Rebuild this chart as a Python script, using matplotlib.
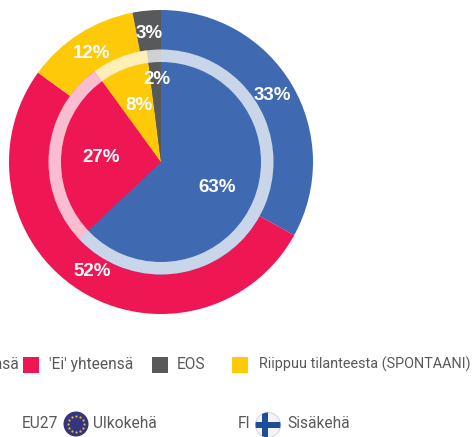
import numpy as np
import matplotlib
matplotlib.use("Agg")
import matplotlib.pyplot as plt
from matplotlib.patches import Circle, Rectangle, Wedge

W, H = 472, 437

categories = ["'Kyllä' yhteensä", "'Ei' yhteensä", "EOS", "Riippuu tilanteesta (SPONTAANI)"]
colors = ["#3f6ab2", "#ef1654", "#58595b", "#fec908"]

# clockwise from the top: yes, no, depends, dont know
outer_eu27 = [33, 52, 12, 3]
inner_fi = [63, 27, 8, 2]
pie_colors = [colors[0], colors[1], colors[3], colors[2]]

plt.rcParams["font.family"] = ["Roboto", "DejaVu Sans"]

fig = plt.figure(figsize=(W / 100, H / 100), dpi=100)
ax = fig.add_axes([0, 0, 1, 1])

cx, cy = 161, 162

# y axis gets flipped below so counterclock pie comes out clockwise
ax.pie(outer_eu27, colors=pie_colors, radius=152, center=(cx, cy), startangle=-90,
       counterclock=True, frame=True, wedgeprops={"linewidth": 0, "zorder": 1})
ax.pie(inner_fi, colors=pie_colors, radius=112.5, center=(cx, cy), startangle=-90,
       counterclock=True, frame=True, wedgeprops={"linewidth": 0, "zorder": 2})
ax.set_xlim(0, W)
ax.set_ylim(H, 0)
ax.set_aspect("equal")
ax.axis("off")

# pale ring on the rim of the inner pie
ax.add_patch(Wedge((cx, cy), 112.5, 0, 360, width=12.5, facecolor="white", alpha=0.72, linewidth=0, zorder=3))

labels = ["33%", "52%", "12%", "3%", "2%", "8%", "27%", "63%"]
label_x = [272, 92, 92, 149, 157, 139, 101, 217]
label_y = [96, 271, 54, 33, 80, 106, 157, 187]
for s, x, y in zip(labels, label_x, label_y):
    ax.text(x, y, s, color="white", fontsize=13.5, fontweight="bold", family="Liberation Sans",
            ha="center", va="center", zorder=5)

# legend row
text_col = "#58595b"
fs = 11.2
box_x = [-25, 23, 152, 232]
text_x = [19, 49, 177, 259]
text_fs = [fs, fs, fs, 10.4]
for i, c in enumerate(categories):
    ax.add_patch(Rectangle((box_x[i], 357), 16, 16, facecolor=colors[i], linewidth=0))
    ha = "right" if i == 0 else "left"
    ax.text(text_x[i], 364.5, c, color=text_col, fontsize=text_fs[i], ha=ha, va="center")

# second row
ax.text(22, 424, "EU27", color=text_col, fontsize=fs, va="center")
ax.text(93, 424, "Ulkokehä", color=text_col, fontsize=fs, va="center")
ax.text(238, 424, "FI", color=text_col, fontsize=fs, va="center")
ax.text(287, 424, "Sisäkehä", color=text_col, fontsize=fs, va="center")

# eu badge
ax.add_patch(Circle((76, 424), 12.5, facecolor="#34357f", linewidth=0, zorder=3))
star_ang = np.arange(0, 360, 30)
ax.scatter(76 + 8 * np.cos(np.radians(star_ang)), 424 + 8 * np.sin(np.radians(star_ang)),
           s=2.5, color="#e0b93a", linewidths=0, zorder=4)

# finnish badge
fl = Circle((268, 425), 12.5, facecolor="#f2f4f8", edgecolor="#c4c8d0", linewidth=0.5, zorder=3)
ax.add_patch(fl)
r1 = Rectangle((255, 422), 26, 6, facecolor="#1f4e96", linewidth=0, zorder=4)
r2 = Rectangle((262, 412), 6, 26, facecolor="#1f4e96", linewidth=0, zorder=4)
ax.add_patch(r1)
ax.add_patch(r2)
r1.set_clip_path(fl)
r2.set_clip_path(fl)

fig.savefig("out.png", dpi=100, facecolor="white")
